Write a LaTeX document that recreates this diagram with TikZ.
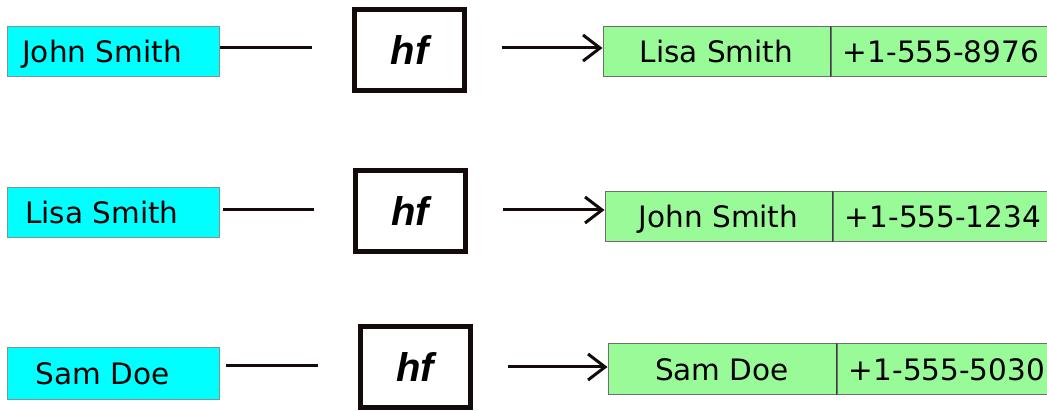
\documentclass[tikz,border=0pt]{standalone}
\usepackage{fontspec}
\setmainfont{DejaVu Sans}
\newfontfamily\hffont{Liberation Sans}
\usetikzlibrary{arrows.meta}
\definecolor{cyanfill}{RGB}{0,255,255}
\definecolor{cyanedge}{RGB}{120,150,150}
\definecolor{greenfill}{RGB}{152,251,152}
\definecolor{greenedge}{RGB}{110,110,110}
\definecolor{divider}{RGB}{60,60,60}
\definecolor{ink}{RGB}{20,10,10}
\tikzset{
  txt/.style={font=\fontsize{29.5}{30}\selectfont, text height=21.5pt, text depth=0pt, inner sep=0pt},
  namebox/.style={txt, rectangle, draw=cyanedge, fill=cyanfill, line width=1pt, minimum width=212pt, minimum height=50pt},
  hfbox/.style={rectangle, draw=ink, line width=5pt, fill=white, minimum width=110pt, minimum height=81pt, inner sep=0pt,
    font=\hffont\bfseries\itshape\fontsize{40}{40}\selectfont},
  resbox/.style={txt, rectangle, draw=greenedge, fill=greenfill, line width=1pt, minimum height=50pt},
  conn/.style={draw=ink, line width=3pt},
  arr/.style={conn, -{Straight Barb[length=17pt,width=26pt,line width=3pt]}},
}
\begin{document}
\begin{tikzpicture}[x=1pt,y=-1pt]
\useasboundingbox (0,0) rectangle (1047,411);
\clip (0,0) rectangle (1047,411);

% row 1
\node[namebox] (c1) at (113,52) {John Smith\hspace*{22pt}};
\node[hfbox] (h1) at (409.5,50) {hf};
\node[resbox, minimum width=227pt] (g1) at (716.5,52) {Lisa Smith};
\node[resbox, minimum width=220pt, anchor=west] (p1) at (g1.east) {+1-555-8976};
\draw[divider, line width=1.5pt] (g1.north east) -- (g1.south east);
\coordinate (l1) at (312,48);
\coordinate (a1) at (502,48);
\draw[conn] (c1.east |- l1) -- (l1);
\draw[arr] (a1) -- (a1 -| g1.west);

% row 2
\node[namebox] (c2) at (113,213) {Lisa Smith\hspace*{22pt}};
\node[hfbox] (h2) at (410,211) {hf};
\node[resbox, minimum width=227pt] (g2) at (718.5,217) {John Smith};
\node[resbox, minimum width=220pt, anchor=west] (p2) at (g2.east) {+1-555-1234};
\draw[divider, line width=1.5pt] (g2.north east) -- (g2.south east);
\coordinate (l2) at (314,210);
\coordinate (a2) at (503,210);
\draw[conn] ([xshift=3pt]c2.east |- l2) -- (l2);
\draw[arr] (a2) -- (a2 -| g2.west);

% row 3
\node[namebox, minimum height=52pt] (c3) at (113.5,374) {Sam Doe\hspace*{22pt}};
\node[hfbox] (h3) at (415,367) {hf};
\node[resbox, minimum width=228pt, minimum height=51pt] (g3) at (722,369.5) {Sam Doe};
\node[resbox, minimum width=220pt, minimum height=51pt, anchor=west] (p3) at (g3.east) {+1-555-5030};
\draw[divider, line width=1.5pt] (g3.north east) -- (g3.south east);
\coordinate (l3) at (318,366);
\coordinate (a3) at (508,367);
\draw[conn] ([xshift=6pt]c3.east |- l3) -- (l3);
\draw[arr] (a3) -- (a3 -| g3.west);
\end{tikzpicture}
\end{document}
